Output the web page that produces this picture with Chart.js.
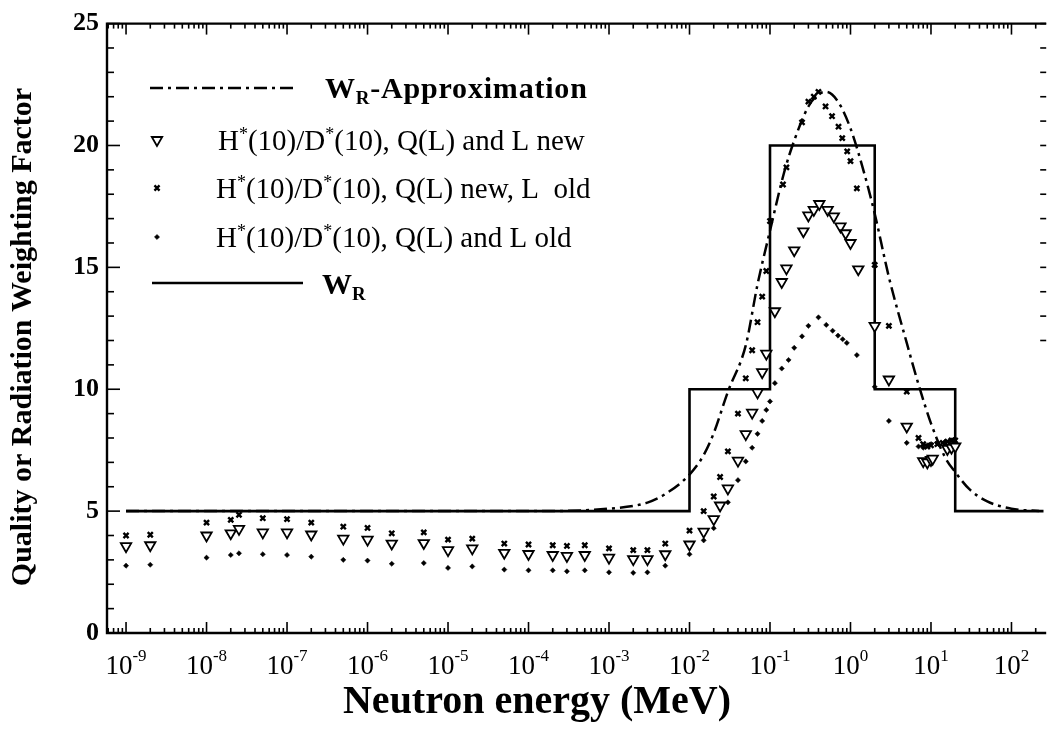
<!DOCTYPE html>
<html>
<head>
<meta charset="utf-8">
<script src="https://cdn.jsdelivr.net/npm/chart.js@4.4.1/dist/chart.umd.min.js"></script>
<style>
  html, body { margin: 0; padding: 0; background: #fff; }
</style>
</head>
<body>
<canvas id="chart" width="1054" height="739"></canvas>
<script>
// energies in MeV
const lowEnergy = [1e-9, 2e-9, 1e-8, 2e-8, 2.53e-8, 5e-8, 1e-7, 2e-7, 5e-7, 1e-6, 2e-6, 5e-6,
  1e-5, 2e-5, 5e-5, 1e-4, 2e-4, 3e-4, 5e-4, 1e-3, 2e-3, 3e-3, 5e-3];

// H*(10)/D*(10), Q(L) and L new  (triangles)
const triLow = [3.56, 3.6, 4.0, 4.09, 4.27, 4.13, 4.13, 4.04, 3.87, 3.83, 3.67, 3.69,
  3.4, 3.47, 3.29, 3.24, 3.2, 3.16, 3.2, 3.09, 3.03, 3.03, 3.23];
const triHighEnergy = [0.01, 0.015, 0.02, 0.024, 0.03, 0.04, 0.05, 0.06, 0.07, 0.08, 0.09, 0.115,
  0.14, 0.16, 0.2, 0.26, 0.3, 0.35, 0.41, 0.52, 0.62, 0.75, 0.87, 1.0, 1.25, 2, 3, 5, 8, 9, 10, 10.5, 16, 18, 20];
const triHigh = [3.63, 4.16, 4.67, 5.23, 5.93, 7.07, 8.16, 9.04, 9.87, 10.7, 11.46, 13.2,
  14.4, 14.96, 15.7, 16.48, 17.13, 17.36, 17.6, 17.36, 17.09, 16.68, 16.4, 16.0, 14.92, 12.6, 10.4, 8.47, 7.05, 7.0, 7.1, 7.15, 7.55, 7.6, 7.65];

// H*(10)/D*(10), Q(L) new, L old  (crosses)
const crossLow = [4.0, 4.03, 4.53, 4.64, 4.85, 4.71, 4.67, 4.53, 4.36, 4.31, 4.09, 4.13,
  3.83, 3.87, 3.67, 3.63, 3.6, 3.57, 3.6, 3.47, 3.4, 3.4, 3.67];
const crossHighEnergy = [0.01, 0.015, 0.02, 0.024, 0.03, 0.04, 0.05, 0.06, 0.07, 0.08, 0.09, 0.1,
  0.145, 0.16, 0.25, 0.3, 0.35, 0.4, 0.49, 0.59, 0.71, 0.79, 0.91, 1.0, 1.2, 2, 3, 5, 7, 8, 9, 10, 12, 14, 16, 18, 20];
const crossHigh = [4.2, 5.0, 5.6, 6.4, 7.45, 9.0, 10.45, 11.6, 12.75, 13.8, 14.85, 16.9,
  18.4, 19.1, 20.95, 21.8, 22.0, 22.2, 21.6, 21.2, 20.77, 20.3, 19.76, 19.36, 18.24, 15.1, 12.6, 9.9, 8.0, 7.75, 7.65, 7.7, 7.75, 7.8, 7.85, 7.9, 7.9];

// H*(10)/D*(10), Q(L) and L old  (dots)
const dotLow = [2.76, 2.8, 3.09, 3.2, 3.27, 3.23, 3.2, 3.13, 3.0, 2.97, 2.84, 2.87,
  2.67, 2.73, 2.6, 2.57, 2.57, 2.53, 2.57, 2.49, 2.47, 2.49, 2.76];
const dotHighEnergy = [0.01, 0.015, 0.02, 0.03, 0.04, 0.05, 0.06, 0.07, 0.08, 0.09, 0.1, 0.115,
  0.14, 0.17, 0.2, 0.25, 0.3, 0.4, 0.5, 0.6, 0.7, 0.8, 0.9, 1.2, 2, 3, 5, 7, 8, 9, 10, 12, 15, 18, 20];
const dotHigh = [3.23, 3.8, 4.3, 5.36, 6.27, 7.04, 7.6, 8.17, 8.7, 9.15, 9.5, 10.25,
  10.85, 11.2, 11.7, 12.17, 12.6, 12.95, 12.64, 12.4, 12.2, 12.05, 11.9, 11.4, 10.1, 8.7, 7.8, 7.65, 7.6, 7.7, 7.75, 7.8, 7.85, 7.9, 7.8];

// W_R step function
const wrEnergy = [1e-9, 0.01, 0.1, 2, 20, 250];
const wrValue = [5, 10, 20, 10, 5, 5];

// W_R approximation
const approxEnergy = [1e-9, 1e-6, 1e-4, 1e-3, 3e-3, 5e-3, 0.01, 0.015, 0.02, 0.03, 0.05, 0.07, 0.1, 0.15, 0.2,
  0.3, 0.4, 0.5, 0.7, 1.0, 1.5, 2, 3, 5, 7, 10, 15, 20, 30, 50, 100, 220];
const approxValue = [5.0, 5.0, 5.0, 5.1, 5.35, 5.7, 6.5, 7.3, 8.2, 9.9, 11.8, 14.3, 16.5, 18.9, 20.2,
  21.6, 22.1, 22.2, 21.8, 20.7, 18.8, 17.2, 14.6, 11.9, 10.2, 8.6, 7.2, 6.6, 5.9, 5.4, 5.1, 5.0];

const decadeExponents = [-9, -8, -7, -6, -5, -4, -3, -2, -1, 0, 1, 2];
const yTickValues = [0, 5, 10, 15, 20, 25];

const SERIF = "'Liberation Serif', 'Times New Roman', serif";
const dashDot = [13, 5, 3, 5];

const toPoints = (xs, ys) => xs.map((e, i) => ({ x: e, y: ys[i] }));

const triStyle = { pointStyle: 'triangle', rotation: 180, radius: 6, borderWidth: 1.8 };
const crossStyle = { pointStyle: 'crossRot', rotation: 0, radius: 3.6, borderWidth: 2.4 };
const dotStyle = { pointStyle: 'rectRot', rotation: 0, radius: 2.6, borderWidth: 0.5 };

// frame, inward ticks, decade labels, titles and the legend
const decorations = {
  id: 'decorations',
  afterDraw(chart) {
    const { ctx, chartArea: a, scales: { x, y } } = chart;
    ctx.save();
    ctx.strokeStyle = '#000';
    ctx.fillStyle = '#000';

    ctx.lineWidth = 2.4;
    ctx.beginPath();
    ctx.moveTo(a.right, a.top);
    ctx.lineTo(a.left, a.top);
    ctx.lineTo(a.left, a.bottom);
    ctx.lineTo(a.right, a.bottom);
    ctx.stroke();

    const seg = (x1, y1, x2, y2) => { ctx.beginPath(); ctx.moveTo(x1, y1); ctx.lineTo(x2, y2); ctx.stroke(); };

    ctx.lineWidth = 1.6;
    [-10].concat(decadeExponents).forEach(k => {
      for (let m = 1; m <= 9; m++) {
        const px = x.getPixelForValue(m * Math.pow(10, k));
        if (px < a.left + 1 || px > a.right - 1) continue;
        const len = m === 1 ? 11 : 5;
        seg(px, a.bottom, px, a.bottom - len);
        seg(px, a.top, px, a.top + len);
      }
    });
    for (let v = 0; v <= 25; v++) {
      const py = y.getPixelForValue(v);
      const len = v % 5 === 0 ? 13 : 7;
      seg(a.left, py, a.left + len, py);
      if (v >= 12) seg(a.right, py, a.right - 6, py);
    }

    // decade labels 10^k
    ctx.textBaseline = 'alphabetic';
    decadeExponents.forEach(k => {
      const px = x.getPixelForValue(Math.pow(10, k));
      ctx.font = '27px ' + SERIF;
      const wBase = ctx.measureText('10').width;
      ctx.font = '17px ' + SERIF;
      const sup = String(k);
      const wSup = ctx.measureText(sup).width;
      const x0 = px - (wBase + wSup) / 2;
      ctx.font = '27px ' + SERIF;
      ctx.textAlign = 'left';
      ctx.fillText('10', x0, 674);
      ctx.font = '17px ' + SERIF;
      ctx.fillText(sup, x0 + wBase, 661);
    });

    // axis titles
    ctx.textAlign = 'center';
    ctx.textBaseline = 'middle';
    ctx.font = 'bold 40px ' + SERIF;
    ctx.fillText('Neutron energy (MeV)', 537, 703);
    ctx.save();
    ctx.translate(23, 337);
    ctx.rotate(-Math.PI / 2);
    ctx.font = 'bold 30px ' + SERIF;
    ctx.fillText('Quality or Radiation Weighting Factor', 0, 0);
    ctx.restore();

    // legend
    ctx.textAlign = 'left';
    ctx.textBaseline = 'alphabetic';
    const drawRich = (parts, x0, base) => {
      let cx = x0;
      parts.forEach(([text, kind, size, weight]) => {
        ctx.font = (weight || '') + ' ' + size + 'px ' + SERIF;
        const dy = kind === 'sup' ? -10 : kind === 'sub' ? 6 : 0;
        ctx.fillText(text, cx, base + dy);
        cx += ctx.measureText(text).width;
      });
    };

    ctx.lineWidth = 2.5;
    ctx.setLineDash(dashDot);
    seg(150, 88, 296, 88);
    ctx.setLineDash([]);
    ctx.letterSpacing = '0.8px';
    drawRich([['W', '', 30, 'bold'], ['R', 'sub', 19, 'bold'], ['-Approximation', '', 30, 'bold']], 325, 98);
    ctx.letterSpacing = '0px';

    const hLabel = tail => [['H', '', 29], ['*', 'sup', 18], ['(10)/D', '', 29], ['*', 'sup', 18], ['(10), ' + tail, '', 29]];
    const rows = [
      { y: 140, style: triStyle, text: hLabel('Q(L) and L new'), tx: 218 },
      { y: 188, style: crossStyle, text: hLabel('Q(L) new, L  old'), tx: 216 },
      { y: 237, style: dotStyle, text: hLabel('Q(L) and L old'), tx: 216 }
    ];
    rows.forEach(r => {
      ctx.fillStyle = r.style === triStyle ? '#fff' : '#000';
      ctx.strokeStyle = '#000';
      ctx.lineWidth = r.style.borderWidth;
      Chart.helpers.drawPoint(ctx, r.style, 157, r.y);
      ctx.fillStyle = '#000';
      drawRich(r.text, r.tx, r.y + 10);
    });

    ctx.lineWidth = 2.5;
    seg(152, 283, 303, 283);
    drawRich([['W', '', 30, 'bold'], ['R', 'sub', 19, 'bold']], 322, 294);

    ctx.restore();
  }
};

new Chart(document.getElementById('chart'), {
  type: 'scatter',
  data: {
    datasets: [
      {
        label: 'H*(10)/D*(10), Q(L) and L new',
        data: toPoints(lowEnergy.concat(triHighEnergy), triLow.concat(triHigh)),
        pointStyle: 'triangle',
        pointRotation: 180,
        pointRadius: 6,
        pointBorderWidth: 1.8,
        borderColor: '#000',
        backgroundColor: '#fff'
      },
      {
        label: 'H*(10)/D*(10), Q(L) new, L old',
        data: toPoints(lowEnergy.concat(crossHighEnergy), crossLow.concat(crossHigh)),
        pointStyle: 'crossRot',
        pointRadius: 3.6,
        pointBorderWidth: 2.4,
        borderColor: '#000',
        backgroundColor: '#000'
      },
      {
        label: 'H*(10)/D*(10), Q(L) and L old',
        data: toPoints(lowEnergy.concat(dotHighEnergy), dotLow.concat(dotHigh)),
        pointStyle: 'rectRot',
        pointRadius: 2.6,
        pointBorderWidth: 0.5,
        borderColor: '#000',
        backgroundColor: '#000'
      },
      {
        label: 'WR-Approximation',
        data: toPoints(approxEnergy, approxValue),
        showLine: true,
        cubicInterpolationMode: 'monotone',
        borderDash: dashDot,
        borderWidth: 2.5,
        borderColor: '#000',
        pointRadius: 0
      },
      {
        label: 'WR',
        data: toPoints(wrEnergy, wrValue),
        showLine: true,
        stepped: 'before',
        borderWidth: 2.6,
        borderColor: '#000',
        pointRadius: 0
      }
    ]
  },
  options: {
    responsive: false,
    animation: false,
    devicePixelRatio: 1,
    layout: { padding: { left: 0, top: 18, right: 2, bottom: 0 } },
    plugins: { legend: { display: false }, tooltip: { enabled: false } },
    scales: {
      x: {
        type: 'logarithmic',
        min: 5.8e-10,
        max: 270,
        grid: { display: false, drawTicks: false },
        border: { display: false },
        ticks: { display: false },
        afterFit: s => { s.height = 106; }
      },
      y: {
        min: 0,
        max: 25,
        grid: { display: false, drawTicks: false },
        border: { display: false },
        afterBuildTicks: s => { s.ticks = yTickValues.map(v => ({ value: v })); },
        ticks: {
          color: '#000',
          padding: 8,
          font: { family: SERIF, size: 26, weight: 'bold' }
        },
        afterFit: s => { s.width = 107; }
      }
    }
  },
  plugins: [decorations]
});
</script>
</body>
</html>
